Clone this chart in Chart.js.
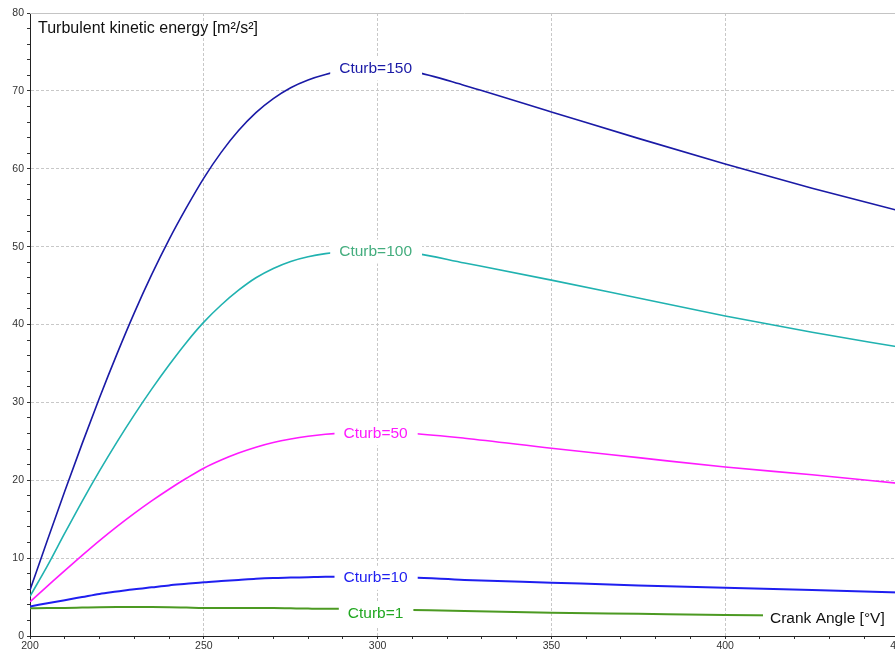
<!DOCTYPE html>
<html>
<head>
<meta charset="utf-8">
<script src="https://cdn.jsdelivr.net/npm/chart.js@4"></script>
<style>
  html, body { margin: 0; padding: 0; background: #fff; overflow: hidden; width: 895px; height: 650px; }
  canvas { display: block; }
</style>
</head>
<body>
<canvas id="tkeChart" width="910" height="650"></canvas>
<script>
// crank angle samples [°V]
const angles = [200, 205, 210, 215, 220, 225, 230, 235, 240, 245, 250, 255, 260, 265, 270, 275, 280, 285, 290, 300, 310, 325, 350, 375, 400, 425, 450];

// turbulent kinetic energy [m²/s²] for each Cturb value
const cturb150 = [5.9, 12.3, 18.6, 24.7, 30.6, 36.2, 41.5, 46.4, 50.9, 55.0, 58.8, 62.1, 64.9, 67.2, 69.0, 70.4, 71.4, 72.1, 72.6, 73.0, 72.5, 70.7, 67.3, 63.9, 60.6, 57.5, 54.6];
const cturb100 = [5.1, 9.0, 13.2, 17.3, 21.2, 24.9, 28.4, 31.7, 34.8, 37.7, 40.3, 42.5, 44.4, 46.0, 47.2, 48.1, 48.7, 49.1, 49.35, 49.5, 49.2, 47.9, 45.7, 43.4, 41.1, 39.0, 37.1];
const cturb50 = [4.4, 6.4, 8.4, 10.35, 12.25, 14.05, 15.75, 17.35, 18.85, 20.25, 21.55, 22.6, 23.5, 24.25, 24.85, 25.3, 25.65, 25.9, 26.05, 26.15, 26.0, 25.4, 24.1, 22.9, 21.7, 20.7, 19.6];
const cturb10 = [3.8, 4.2, 4.6, 5.0, 5.4, 5.7, 6.0, 6.25, 6.5, 6.7, 6.9, 7.05, 7.2, 7.35, 7.45, 7.5, 7.55, 7.6, 7.6, 7.6, 7.5, 7.2, 6.85, 6.5, 6.2, 5.9, 5.6];
const cturb1 = [3.55, 3.58, 3.6, 3.65, 3.7, 3.72, 3.72, 3.72, 3.7, 3.65, 3.6, 3.6, 3.6, 3.6, 3.58, 3.55, 3.52, 3.5, 3.5, 3.45, 3.35, 3.2, 3.0, 2.85, 2.7, 2.6, 2.5];

const seriesNames = ['Cturb=150', 'Cturb=100', 'Cturb=50', 'Cturb=10', 'Cturb=1'];
const seriesValues = [cturb150, cturb100, cturb50, cturb10, cturb1];
const lineColors = ['#1a1aa6', '#20b2b0', '#ff1aff', '#1f1ff0', '#4c9a22'];
const labelColors = ['#1a1aa6', '#44ad7e', '#ff1aff', '#1f1ff0', '#22a822'];
const labelAngle = 300;

const yTitle = 'Turbulent kinetic energy [m²/s²]';
const xTitle = 'Crank Angle [°V]';

const FONT = '"Liberation Sans", Arial, sans-serif';

// curve labels sit on the curve with a white box cutting the line
const curveLabels = {
    id: 'curveLabels',
    afterDatasetsDraw(chart) {
        const ctx = chart.ctx;
        const xs = chart.scales.x, ys = chart.scales.y;
        const area = chart.chartArea;
        ctx.save();
        ctx.font = '15.5px ' + FONT;
        ctx.textBaseline = 'middle';
        const idx = angles.indexOf(labelAngle);
        seriesNames.forEach((name, i) => {
            const px = xs.getPixelForValue(labelAngle) - 2;
            let py = ys.getPixelForValue(seriesValues[i][idx]) + 1;
            if (i === seriesNames.length - 1) py += 4;
            const w = ctx.measureText(name).width;
            ctx.fillStyle = '#fff';
            ctx.fillRect(px - w / 2 - 9, py - 12, w + 19, 24);
            ctx.fillStyle = labelColors[i];
            ctx.textAlign = 'center';
            ctx.fillText(name, px, py);
        });
        // axis titles
        ctx.textAlign = 'left';
        const xw = ctx.measureText(xTitle).width;
        ctx.fillStyle = '#fff';
        ctx.fillRect(763, area.bottom - 30, xw + 20, 26);
        ctx.fillStyle = '#111';
        ctx.fillText(xTitle, 770, area.bottom - 17);
        ctx.font = '16px ' + FONT;
        ctx.fillText(yTitle, 38, 29);
        // solid top frame line
        ctx.strokeStyle = '#c4c4c4';
        ctx.lineWidth = 1;
        ctx.beginPath();
        ctx.moveTo(area.left, area.top + 0.5);
        ctx.lineTo(area.right, area.top + 0.5);
        ctx.stroke();
        ctx.restore();
    }
};

const datasets = seriesNames.map((name, i) => ({
    label: name,
    data: angles.map((a, j) => ({ x: a, y: seriesValues[i][j] })),
    borderColor: lineColors[i],
    borderWidth: i >= 3 ? 2 : 1.6,
    pointRadius: 0,
    cubicInterpolationMode: 'monotone',
    fill: false
}));

const tickFont = { family: FONT, size: 10.5 };

new Chart(document.getElementById('tkeChart'), {
    type: 'line',
    data: { datasets: datasets },
    options: {
        responsive: false,
        animation: false,
        layout: { autoPadding: false, padding: { top: 13, right: 11, left: 0, bottom: 0 } },
        plugins: {
            legend: { display: false },
            tooltip: { enabled: false }
        },
        scales: {
            x: {
                type: 'linear',
                min: 200,
                max: 450,
                afterFit: (scale) => { scale.height = 14; },
                ticks: {
                    stepSize: 10,
                    autoSkip: false,
                    maxRotation: 0,
                    padding: 1,
                    color: '#333',
                    font: tickFont,
                    callback: (v) => (v % 50 === 0 ? v : '')
                },
                grid: {
                    color: (c) => (c.tick && c.tick.value % 50 === 0 && c.tick.value !== 200 ? '#c8c8c8' : 'transparent'),
                    tickColor: '#333',
                    tickLength: 3,
                    tickBorderDash: []
                },
                border: { color: '#222', width: 1, dash: [3, 2] }
            },
            y: {
                min: 0,
                max: 80,
                afterFit: (scale) => { scale.width = 30; },
                ticks: {
                    stepSize: 2,
                    autoSkip: false,
                    padding: 3,
                    color: '#333',
                    font: tickFont,
                    callback: (v) => (v % 10 === 0 ? v : '')
                },
                grid: {
                    color: (c) => (c.tick && c.tick.value % 10 === 0 && c.tick.value !== 0 && c.tick.value !== 80 ? '#c8c8c8' : 'transparent'),
                    tickColor: '#333',
                    tickLength: 3,
                    tickBorderDash: []
                },
                border: { color: '#222', width: 1, dash: [3, 2] }
            }
        }
    },
    plugins: [curveLabels]
});
</script>
</body>
</html>
